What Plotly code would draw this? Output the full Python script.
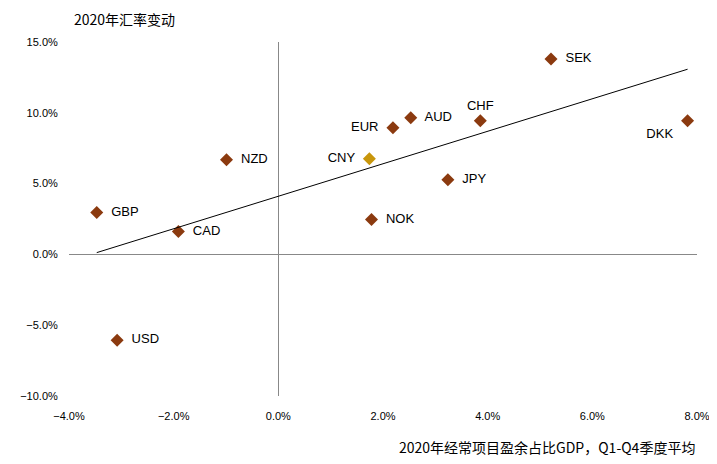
import plotly.graph_objects as go
import numpy as np

# 经常项目盈余占比GDP (%), 2020年汇率变动 (%)
currencies = ['SEK', 'DKK', 'CHF', 'AUD', 'EUR', 'CNY', 'JPY', 'NOK', 'NZD', 'GBP', 'CAD', 'USD']
ca_gdp = [5.21, 7.82, 3.86, 2.53, 2.19, 1.74, 3.24, 1.78, -0.99, -3.47, -1.91, -3.08]
fx_chg = [13.8, 9.44, 9.44, 9.65, 8.94, 6.76, 5.28, 2.46, 6.69, 2.96, 1.62, -6.06]
label_pos = ['middle right', 'bottom left', 'top center', 'middle right', 'middle left',
             'middle left', 'middle right', 'middle right', 'middle right', 'middle right',
             'middle right', 'middle right']

colors = ['#c8960c' if c == 'CNY' else '#8b3a0f' for c in currencies]

fig = go.Figure()
fig.add_trace(go.Scatter(
    x=ca_gdp, y=fx_chg, mode='markers+text', text=['  ' + c + '  ' for c in currencies],
    textposition=label_pos, textfont=dict(size=13, color='black', family='Liberation Sans'),
    marker=dict(symbol='diamond', size=10, color=colors), showlegend=False
))

# 线性趋势线
k, b = np.polyfit(ca_gdp, fx_chg, 1)
xs = np.array([min(ca_gdp), max(ca_gdp)])
fig.add_trace(go.Scatter(x=xs, y=k * xs + b, mode='lines',
                         line=dict(color='black', width=1), showlegend=False))

fig.update_layout(
    width=717, height=464, plot_bgcolor='white', paper_bgcolor='white',
    margin=dict(l=50, r=28, t=34, b=76),
    font=dict(family='Liberation Sans', size=11, color='black'),
    xaxis=dict(range=[-4, 8], dtick=2, ticksuffix='%', tickformat='.1f', showgrid=False,
               zeroline=True, zerolinecolor='#888', zerolinewidth=1, ticks='outside',
               ticklen=10, tickcolor='rgba(0,0,0,0)', showline=False),
    yaxis=dict(range=[-10, 15], dtick=5, ticksuffix='%', tickformat='.1f', showgrid=False,
               zeroline=True, zerolinecolor='#888', zerolinewidth=1, ticks='outside',
               ticklen=8, tickcolor='rgba(0,0,0,0)', showline=False),
    annotations=[
        dict(text='2020年汇率变动', xref='paper', yref='paper', x=0.005, y=1.03,
             xanchor='left', yanchor='bottom', showarrow=False,
             font=dict(family='Noto Sans CJK SC', size=14)),
        dict(text='2020年经常项目盈余占比GDP，Q1-Q4季度平均', xref='paper', yref='paper',
             x=1.0, y=-0.11, xanchor='right', yanchor='top', showarrow=False,
             font=dict(family='Noto Sans CJK SC', size=14)),
    ]
)

fig.write_html('out.html')
